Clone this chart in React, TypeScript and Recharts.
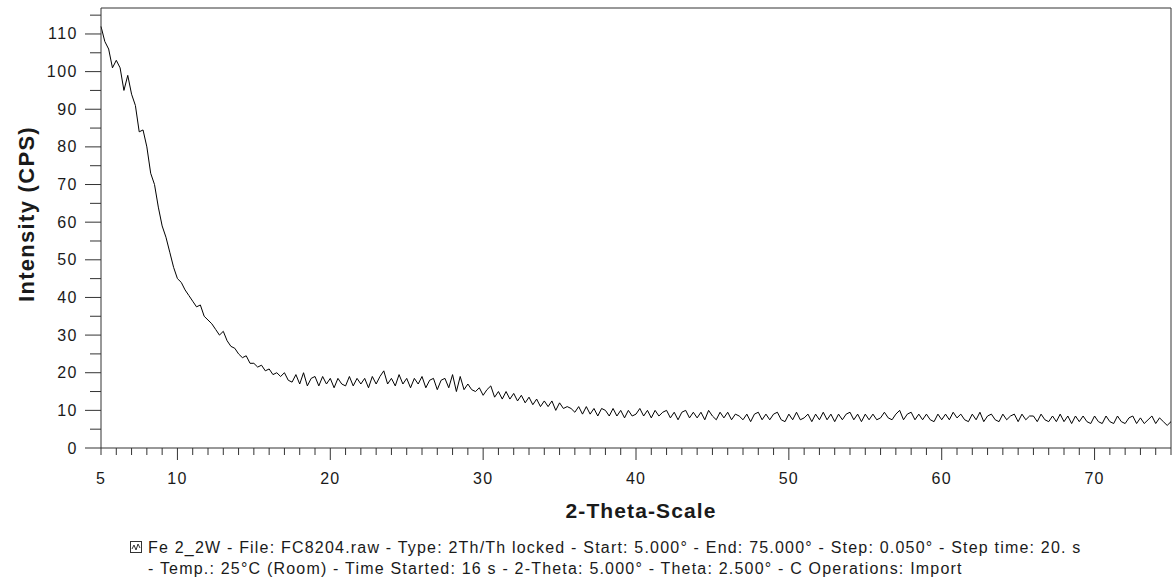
import React from 'react';
import { LineChart, Line, XAxis, YAxis, ReferenceLine, Label } from 'recharts';

// scan settings (from the legend) and intensities every 0.25°
const scanStart = 5;
const scanStep = 0.25;
const intensity: number[] = [
  112, 108, 106, 101, // 5
  103, 101, 95, 99, // 6
  94, 91, 84, 84.5, // 7
  80, 73, 70, 64, // 8
  59, 56, 52, 48, // 9
  45, 44, 42, 40.5, // 10
  39, 37.5, 38, 35, // 11
  34, 33, 31.5, 30, // 12
  31, 28.5, 27, 26.5, // 13
  25, 24, 24.5, 22.5, // 14
  22.5, 21.5, 22, 20.5, // 15
  21, 19.5, 20, 19, // 16
  20, 18, 17.5, 19.5, // 17
  17, 20, 16.5, 18.5, // 18
  19, 16.5, 19, 17, // 19
  18.5, 16, 18.5, 17, // 20
  16.5, 19, 16.5, 18.5, // 21
  17, 18.5, 16, 19, // 22
  17, 19, 20.5, 17, // 23
  18.5, 16.5, 19.5, 17, // 24
  18.5, 16, 18.5, 17, // 25
  19, 16, 18, 18.5, // 26
  15.5, 18, 18.5, 16, // 27
  19.5, 15, 19, 15.5, // 28
  17, 15.5, 15, 16, // 29
  14, 15.5, 16.5, 13.5, // 30
  15, 13, 15, 13, // 31
  14.5, 12.5, 14, 12, // 32
  13.5, 11.5, 13, 11, // 33
  12.5, 11, 12.5, 10, // 34
  12, 10.5, 11, 10.5, // 35
  9.5, 11, 9, 11, // 36
  9, 10.5, 8.5, 10.5, // 37
  10, 8.5, 10.5, 8.5, // 38
  10, 8, 10, 8.5, // 39
  9, 10.5, 8.5, 10, // 40
  8, 10, 8.5, 9.5, // 41
  10, 8, 9.5, 7.5, // 42
  9.5, 10, 8, 9.5, // 43
  8, 9.5, 7.5, 10, // 44
  8.5, 7.5, 9.5, 8, // 45
  9.5, 7.5, 9, 8.5, // 46
  7.5, 9, 7, 9, // 47
  9.5, 7.5, 9, 7.5, // 48
  9, 9.5, 7.5, 7, // 49
  9, 7.5, 9.5, 7.5, // 50
  8, 9, 7, 9, // 51
  7.5, 9.5, 7.5, 9, // 52
  7, 9, 7.5, 9, // 53
  9.5, 7.5, 9, 7, // 54
  9, 7.5, 9, 7.5, // 55
  8, 9.5, 8, 7.5, // 56
  9, 10, 7.5, 9, // 57
  9.5, 7.5, 9, 7.5, // 58
  9, 7.5, 7, 9, // 59
  7.5, 9, 7.5, 9.5, // 60
  8, 9, 7.5, 7, // 61
  9, 7.5, 9.5, 7, // 62
  8.5, 9, 7.5, 7, // 63
  9, 7.5, 8.5, 9, // 64
  7, 9, 7.5, 8.5, // 65
  8.5, 7, 9, 7.5, // 66
  7, 8.5, 7, 9, // 67
  7, 8.5, 6.5, 8.5, // 68
  7, 8.5, 7, 6.5, // 69
  8.5, 7, 6.5, 8.5, // 70
  7, 6.5, 8.5, 7, // 71
  6.5, 8, 8.5, 6.5, // 72
  8, 6.5, 7.5, 8.5, // 73
  6.5, 8, 7, 6, // 74
  7, // 75
];

const xTicks = Array.from({ length: 71 }, (_, i) => 5 + i);
const yTicks = Array.from({ length: 24 }, (_, i) => i * 5);
const Y_MAX = 116.9;

const legendLines = [
  'Fe 2_2W - File: FC8204.raw - Type: 2Th/Th locked - Start: 5.000° - End: 75.000° - Step: 0.050° - Step time: 20. s',
  '- Temp.: 25°C (Room) - Time Started: 16 s - 2-Theta: 5.000° - Theta: 2.500° - C Operations: Import',
];

const data = intensity.map((v, i) => ({ angle: scanStart + i * scanStep, cps: v }));

const FONT = '"Liberation Sans", Arial, sans-serif';
const AXIS = '#333';

const XTick = (props: any) => {
  const { x, y, payload } = props;
  const v = payload.value as number;
  const major = v % 10 === 0;
  const showLabel = v === 5 || (major && v < 75);
  return (
    <g>
      <line x1={x} x2={x} y1={y} y2={y + (major ? 12 : 7)} stroke={AXIS} />
      {showLabel && (
        <text x={x} y={y + 36} textAnchor="middle" fontSize={16} letterSpacing={1.2} fill="#1a1a1a" fontFamily={FONT}>
          {v}
        </text>
      )}
    </g>
  );
};

const YTick = (props: any) => {
  const { x, y, payload } = props;
  const v = payload.value as number;
  const major = v % 10 === 0;
  return (
    <g>
      <line x1={x} x2={x - (major ? 16 : 11)} y1={y} y2={y} stroke={AXIS} />
      {major && (
        <text x={x - 23} y={y} textAnchor="end" dominantBaseline="central" fontSize={16} letterSpacing={1.5} fill="#1a1a1a" fontFamily={FONT}>
          {v}
        </text>
      )}
    </g>
  );
};

const YTitle = () => (
  <text
    x={26}
    y={214}
    transform="rotate(-90, 26, 214)"
    textAnchor="middle"
    dominantBaseline="central"
    fontSize={22}
    letterSpacing={1.3}
    fontWeight="bold"
    fill="#1a1a1a"
    fontFamily={FONT}
  >
    Intensity (CPS)
  </text>
);

const XTitle = () => (
  <text x={641} y={518} textAnchor="middle" fontSize={21} letterSpacing={1.1} fontWeight="bold" fill="#1a1a1a" fontFamily={FONT}>
    2-Theta-Scale
  </text>
);

export default function App() {
  return (
    <div style={{ position: 'absolute', left: 0, top: 0, width: 1175, height: 585, background: '#fff', fontFamily: FONT }}>
      <LineChart width={1175} height={525} data={data} margin={{ top: 8, right: 4, left: 0, bottom: 0 }}>
        <XAxis
          dataKey="angle"
          type="number"
          domain={[5, 75]}
          ticks={xTicks}
          interval={0}
          tick={<XTick />}
          tickSize={0}
          tickMargin={0}
          height={77}
          stroke={AXIS}
          allowDecimals
        >
          <Label content={<XTitle />} />
        </XAxis>
        <YAxis
          type="number"
          domain={[0, Y_MAX]}
          ticks={yTicks}
          interval={0}
          tick={<YTick />}
          tickSize={0}
          tickMargin={0}
          width={101}
          stroke={AXIS}
        >
          <Label content={<YTitle />} />
        </YAxis>
        <ReferenceLine y={Y_MAX} stroke={AXIS} />
        <ReferenceLine x={75} stroke={AXIS} />
        <Line type="linear" dataKey="cps" stroke="#000" strokeWidth={1} dot={false} isAnimationActive={false} />
      </LineChart>
      <div style={{ position: 'absolute', left: 130, top: 537, fontSize: 16, letterSpacing: 1.2, color: '#1a1a1a', lineHeight: '21px' }}>
        <svg width={12} height={12} style={{ position: 'absolute', left: 0, top: 4 }}>
          <rect x={0.5} y={0.5} width={11} height={11} fill="none" stroke="#333" />
          <polyline points="2,8 4,4 6,9 8,3 10,7" fill="none" stroke="#333" />
        </svg>
        <div style={{ marginLeft: 18, whiteSpace: 'nowrap' }}>{legendLines[0]}</div>
        <div style={{ marginLeft: 18, whiteSpace: 'nowrap' }}>{legendLines[1]}</div>
      </div>
    </div>
  );
}
